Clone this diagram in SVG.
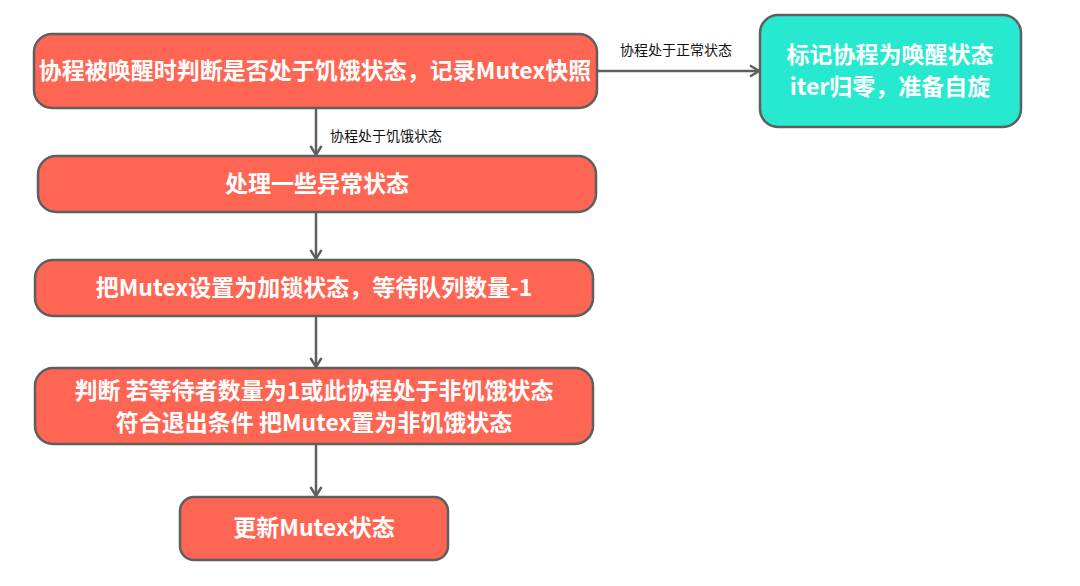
<svg xmlns="http://www.w3.org/2000/svg" width="1080" height="586" viewBox="0 0 1080 586">
<style>
.red{fill:#FF6553;stroke:#5f5f5f;stroke-width:2.5}
.green{fill:#27E9D0;stroke:#5f5f5f;stroke-width:2.5}
.t{font-family:"Noto Sans CJK SC","Noto Sans",sans-serif;font-size:23px;font-weight:bold;fill:#fff;text-anchor:middle}
.lbl{font-family:"Noto Sans CJK SC","Noto Sans",sans-serif;font-size:14px;fill:#111}
.c{stroke:#5f5f5f;stroke-width:2.5;fill:none}
</style>
<defs>
<marker id="ah" viewBox="0 0 14 14" refX="12" refY="7" markerWidth="14" markerHeight="14" markerUnits="userSpaceOnUse" orient="auto">
<path d="M3,1.5 L12,7 L3,12.5" fill="none" stroke="#5f5f5f" stroke-width="2.4"/>
</marker>
</defs>
<rect width="1080" height="586" fill="#fff"/>
<g id="connectors">
<line class="c" x1="316" y1="108" x2="316" y2="155" marker-end="url(#ah)"/>
<line class="c" x1="316" y1="212" x2="316" y2="259" marker-end="url(#ah)"/>
<line class="c" x1="316" y1="316" x2="316" y2="367" marker-end="url(#ah)"/>
<line class="c" x1="316" y1="444" x2="316" y2="496" marker-end="url(#ah)"/>
<line class="c" x1="597" y1="71" x2="759" y2="71" marker-end="url(#ah)"/>
<text class="lbl" x="330" y="141">协程处于饥饿状态</text>
<text class="lbl" x="620" y="55">协程处于正常状态</text>
</g>
<g id="n1">
<rect class="red" x="34" y="34" width="563" height="74" rx="18"/>
<text class="t" x="315" y="79">协程被唤醒时判断是否处于饥饿状态，记录Mutex快照</text>
</g>
<g id="n2">
<rect class="red" x="38" y="156" width="558" height="56" rx="18"/>
<text class="t" x="317" y="192">处理一些异常状态</text>
</g>
<g id="n3">
<rect class="red" x="35" y="260" width="558" height="56" rx="18"/>
<text class="t" x="314" y="296">把Mutex设置为加锁状态，等待队列数量-1</text>
</g>
<g id="n4">
<rect class="red" x="35" y="368" width="558" height="76" rx="18"/>
<text class="t" x="314" y="399">判断 若等待者数量为1或此协程处于非饥饿状态</text>
<text class="t" x="314" y="431">符合退出条件 把Mutex置为非饥饿状态</text>
</g>
<g id="n5">
<rect class="red" x="180" y="497" width="268" height="63" rx="14"/>
<text class="t" x="314" y="536">更新Mutex状态</text>
</g>
<g id="n6">
<rect class="green" x="760" y="15" width="261" height="112" rx="18"/>
<text class="t" x="890" y="63">标记协程为唤醒状态</text>
<text class="t" x="890" y="95">iter归零，准备自旋</text>
</g>
</svg>
